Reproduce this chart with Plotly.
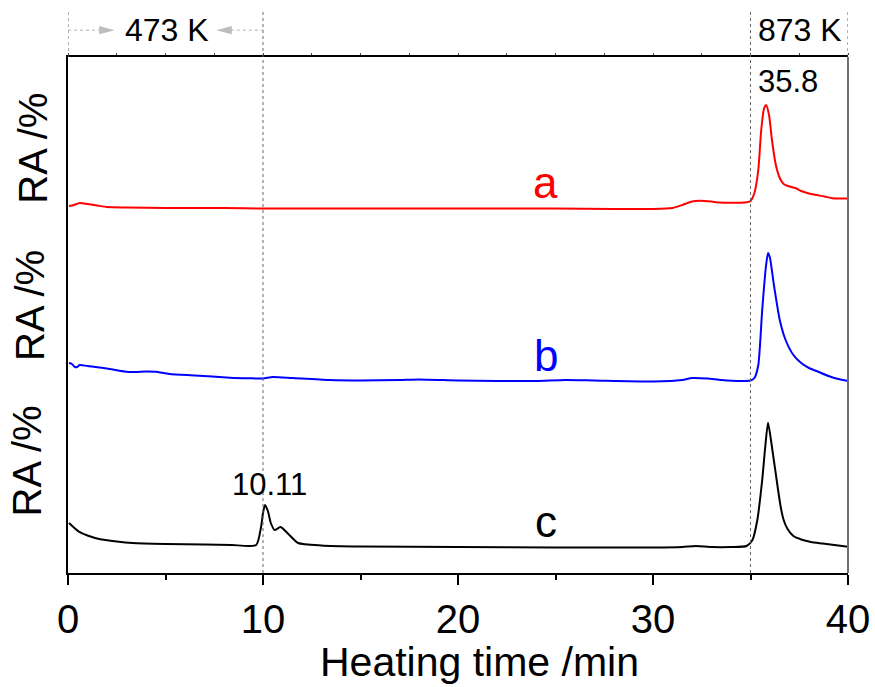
import plotly.graph_objects as go

# ---------------- data (heating time in min, relative abundance in arbitrary offset units) ----------------
a_time = [0.05, 0.3, 0.6, 1.0, 1.5, 2.0, 3.0, 5.0, 8.0, 10.0, 15.0, 20.0, 25.0, 28.0, 30.0, 31.0, 31.5, 32.0,
          32.4, 33.0, 33.4, 34.7, 35.0, 35.2, 35.4, 35.55, 35.7, 35.8, 35.95, 36.1, 36.3, 36.5, 36.7, 37.0,
          37.3, 37.6, 38.0, 38.4, 38.8, 39.2, 39.6, 40.0]
a_signal = [367, 368, 370, 369, 367.5, 366, 365.5, 365, 365, 364.5, 364.5, 364.5, 364.5, 364, 364, 365, 368, 371.5,
            372.3, 371.5, 370.5, 370.5, 372, 380, 403, 443, 465, 468, 458, 433, 408, 395, 389, 386.5,
            385, 382, 379.5, 378, 376.5, 374.7, 374.5, 374.5]

b_time = [0.05, 0.2, 0.35, 0.46, 0.6, 1.0, 2.0, 3.1, 4.0, 4.5, 5.2, 6.5, 8.3, 9.3, 10.0, 10.5, 11.5, 13.4, 15.0,
          17.0, 18.0, 20.0, 22.0, 24.0, 25.5, 27.0, 30.0, 31.5, 32.0, 32.8, 33.5, 34.5, 35.0, 35.2, 35.4, 35.6,
          35.8, 35.9, 36.0, 36.2, 36.5, 36.8, 37.2, 37.6, 38.0, 38.5, 39.0, 39.5, 40.0]
b_signal = [210, 209, 206, 206, 208, 207, 204.5, 201, 201.5, 201.3, 199, 197.5, 195.3, 194.7, 194.5, 196, 195, 193, 192.5,
            193, 193.5, 192.5, 192, 192, 193, 192.5, 191.5, 193, 195, 194.5, 193, 192, 192.5, 195, 208, 263,
            308, 320, 315, 288, 253, 233, 218, 210, 205, 201, 197, 194, 192]

c_time = [0.05, 0.56, 1.0, 1.6, 2.5, 3.3, 5.0, 7.0, 8.4, 9.65, 9.9, 10.0, 10.1, 10.25, 10.4, 10.6, 10.9, 11.35, 11.8,
          13.0, 15.0, 20.0, 25.0, 30.0, 31.5, 32.2, 33.0, 34.0, 34.8, 35.1, 35.35, 35.6, 35.75, 35.9, 36.1, 36.4,
          36.55, 36.7, 36.9, 37.2, 37.6, 38.1, 38.7, 39.3, 40.0]
c_signal = [50, 41.3, 37.5, 34, 31.5, 30, 29, 28.5, 28, 28, 46, 60, 68, 62, 50, 43, 46, 38, 30,
            27.5, 26.5, 26, 25.5, 25.5, 26, 27, 26, 26, 27, 33, 53, 93, 125, 150.3, 126, 85,
            66, 53, 44, 37, 33.5, 31, 29.5, 28, 26.3]

x_ticks = [0, 10, 20, 30, 40]
temp_marks_time = [10, 35]        # 473 K and 873 K
peak_labels = [("35.8", 36.9, 492), ("10.11", 10.33, 89)]
curve_labels = [("a", 24.5, 391, "#ff0000"), ("b", 24.5, 218, "#0000ff"), ("c", 24.5, 52, "#000000")]

FONT = "Liberation Sans, Arial, sans-serif"

fig = go.Figure()
fig.add_trace(go.Scatter(x=a_time, y=a_signal, mode="lines", line=dict(color="#ff0000", width=2, shape="spline", smoothing=0.6), showlegend=False))
fig.add_trace(go.Scatter(x=b_time, y=b_signal, mode="lines", line=dict(color="#0000ff", width=2, shape="spline", smoothing=0.6), showlegend=False))
fig.add_trace(go.Scatter(x=c_time, y=c_signal, mode="lines", line=dict(color="#000000", width=2, shape="spline", smoothing=0.6), showlegend=False))
# invisible trace on top axis so it renders
fig.add_trace(go.Scatter(x=[0, 40], y=[0, 0], xaxis="x2", mode="lines", line=dict(width=0), hoverinfo="skip", showlegend=False))

shapes = []
# dotted verticals
for xv in temp_marks_time:
    shapes.append(dict(type="line", xref="x", yref="paper", x0=xv, x1=xv, y0=0, y1=1.09,
                       line=dict(color="#666666", width=1, dash="dot")))
for xv in [0, 40]:
    shapes.append(dict(type="line", xref="x", yref="paper", x0=xv, x1=xv, y0=1.0, y1=1.09,
                       line=dict(color="#666666", width=1, dash="dot")))
# right axis line (gray)
shapes.append(dict(type="line", xref="paper", yref="paper", x0=1, x1=1, y0=0, y1=1,
                   line=dict(color="#707070", width=2)))
# dotted arrow stems for 473 K
ya = 1.052
shapes.append(dict(type="line", xref="x", yref="paper", x0=0, x1=1.65, y0=ya, y1=ya,
                   line=dict(color="#b0b0b0", width=1, dash="dot")))
shapes.append(dict(type="line", xref="x", yref="paper", x0=8.35, x1=10, y0=ya, y1=ya,
                   line=dict(color="#b0b0b0", width=1, dash="dot")))
# arrowheads
hw = 0.008
shapes.append(dict(type="path", xref="x", yref="paper",
                   path=f"M 1.6 {ya+hw} L 2.4 {ya} L 1.6 {ya-hw} Z",
                   fillcolor="#bdbdbd", line=dict(width=0)))
shapes.append(dict(type="path", xref="x", yref="paper",
                   path=f"M 8.4 {ya+hw} L 7.6 {ya} L 8.4 {ya-hw} Z",
                   fillcolor="#bdbdbd", line=dict(width=0)))

annotations = []
annotations.append(dict(text="473 K", xref="x", yref="paper", x=5.09, y=ya, showarrow=False,
                        font=dict(family=FONT, size=32, color="black"), xanchor="center", yanchor="middle"))
annotations.append(dict(text="873 K", xref="x", yref="paper", x=37.56, y=ya, showarrow=False,
                        font=dict(family=FONT, size=32, color="black"), xanchor="center", yanchor="middle"))
for txt, xv, yv in peak_labels:
    annotations.append(dict(text=txt, x=xv, y=yv, xref="x", yref="y", showarrow=False,
                            font=dict(family=FONT, size=31, color="black"), xanchor="center", yanchor="middle"))
for txt, xv, yv, col in curve_labels:
    annotations.append(dict(text=txt, x=xv, y=yv, xref="x", yref="y", showarrow=False,
                            font=dict(family=FONT, size=44, color=col), xanchor="center", yanchor="middle"))
for xp, yp in [(-0.045, 0.824), (-0.049, 0.519), (-0.052, 0.217)]:
    annotations.append(dict(text="RA /%", xref="paper", yref="paper", x=xp, y=yp, showarrow=False, textangle=-90,
                            font=dict(family=FONT, size=40, color="black"), xanchor="center", yanchor="middle"))
# x-axis title
annotations.append(dict(text="Heating time /min", xref="paper", yref="paper", x=0.527, y=-0.172, showarrow=False,
                        font=dict(family=FONT, size=41, color="black"), xanchor="center", yanchor="middle"))

fig.update_layout(
    width=875, height=687,
    margin=dict(l=68, r=27, t=57, b=114),
    paper_bgcolor="white", plot_bgcolor="white",
    font=dict(family=FONT, color="black"),
    xaxis=dict(range=[0, 40], tickvals=x_ticks, ticks="outside", ticklen=10, tickwidth=1.5, tickcolor="black",
               showline=True, linecolor="black", linewidth=2, showgrid=False, zeroline=False, automargin=False,
               tickfont=dict(family=FONT, size=40),
               minor=dict(tickvals=[5, 15, 25, 35], ticks="outside", ticklen=5, tickwidth=1.5, tickcolor="black")),
    xaxis2=dict(range=[0, 40], overlaying="x", side="top", showline=True, linecolor="black", linewidth=2,
                ticks="outside", ticklen=2, tickcolor="#444444", dtick=2.5, tick0=0, showticklabels=False,
                showgrid=False, zeroline=False, automargin=False),
    yaxis=dict(range=[0, 516], showline=True, linecolor="black", linewidth=1.5, showticklabels=False,
               ticks="", showgrid=False, zeroline=False, automargin=False),
    shapes=shapes, annotations=annotations,
)

fig.write_html("out.html")
